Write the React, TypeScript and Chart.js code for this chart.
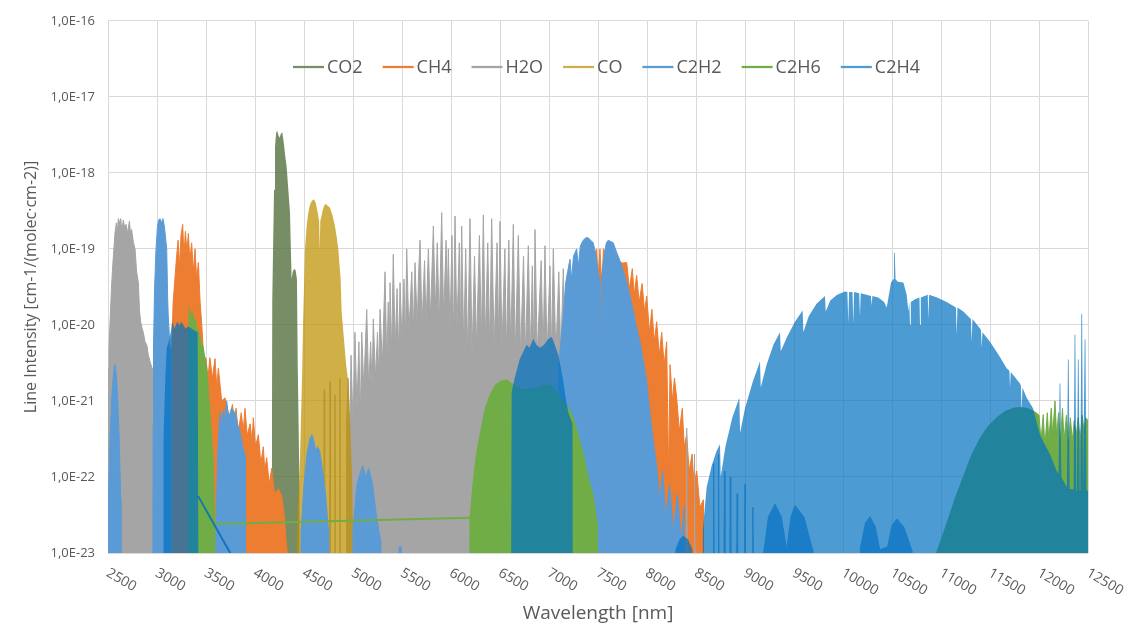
import React, { useEffect, useRef } from "react";
import { Chart, registerables } from "chart.js";

Chart.register(...registerables);

type P = [number, number];

// value used to push a band edge just below the visible axis floor
const FLOOR = 5e-24;

const seriesNames = ["CO2", "CH4", "H2O", "CO", "C2H2", "C2H6", "C2H4"];
const xTicks = [2500, 3000, 3500, 4000, 4500, 5000, 5500, 6000, 6500, 7000, 7500, 8000, 8500, 9000, 9500, 10000, 10500, 11000, 11500, 12000, 12500];
const yTicks = [1e-23, 1e-22, 1e-21, 1e-20, 1e-19, 1e-18, 1e-17, 1e-16];
const xTitle = "Wavelength [nm]";
const yTitle = "Line Intensity [cm-1/(molec·cm-2)]";

// ---- CO2 ----
const co2Band: P[] = [
  [4172, 1e-22], [4176, 2e-20], [4188, 2e-19], [4194, 6e-19], [4204, 2.2e-18], [4215, 3.3e-18], [4225, 3.6e-18],
  [4240, 3.1e-18], [4252, 2.9e-18], [4265, 3.3e-18], [4279, 3.4e-18], [4295, 2.4e-18], [4310, 1.6e-18], [4323, 1.2e-18],
  [4340, 6e-19], [4357, 3e-19], [4366, 1e-19], [4374, 4e-20], [4385, 5e-20], [4400, 5.5e-20], [4415, 5.2e-20],
  [4428, 4e-20], [4436, 3e-21], [4445, 5e-22], [4455, 5e-23],
];

// ---- CH4 ----
const ch4Band1: P[] = [
  [3150, 5e-21], [3165, 2e-20], [3180, 3.6e-20], [3200, 8e-20], [3215, 1.3e-19], [3230, 6e-20], [3245, 1.5e-19],
  [3262, 2.1e-19], [3275, 8e-20], [3290, 1.7e-19], [3305, 9e-20], [3320, 1.6e-19], [3335, 7e-20], [3354, 1.2e-19],
  [3370, 5e-20], [3388, 1e-19], [3405, 4e-20], [3422, 6.6e-20], [3440, 2e-20], [3455, 1.1e-20], [3475, 4e-21],
  [3500, 3.6e-21], [3520, 2e-21], [3540, 3.7e-21], [3565, 2e-21], [3592, 3.6e-21], [3610, 1.5e-21], [3626, 2.7e-21],
  [3660, 1e-21], [3694, 1.1e-21], [3740, 6e-22], [3770, 9e-22], [3790, 5e-22], [3806, 8e-22], [3830, 4e-22],
  [3860, 7e-22], [3880, 4e-22], [3898, 8e-22], [3920, 3.5e-22], [3950, 5e-22], [3970, 3e-22], [3983, 6e-22],
  [4005, 2.5e-22], [4034, 3.6e-22], [4060, 1.5e-22], [4085, 2.5e-22], [4100, 1.2e-22], [4119, 1.8e-22],
  [4145, 8e-23], [4170, 1.3e-22], [4200, 6e-23], [4240, 7e-23], [4272, 5.6e-23], [4300, 3e-23], [4322, 1.2e-23],
];
const ch4WeakLines: P[] = [[6126, 1.2e-22], [6194, 5e-22]];
const ch4Band2: P[] = [
  [7000, 5e-22], [7100, 3e-21], [7200, 1e-20], [7300, 3e-20], [7400, 6e-20], [7487, 1e-19], [7500, 4e-20],
  [7520, 1e-19], [7540, 3e-20], [7555, 1e-19], [7600, 8e-20], [7650, 9e-20], [7700, 7e-20], [7750, 6.5e-20],
  [7793, 6.6e-20], [7820, 3e-20], [7850, 5.5e-20], [7870, 2.5e-20], [7894, 4.5e-20], [7920, 2e-20], [7950, 3.5e-20],
  [7975, 1.5e-20], [7997, 2.4e-20], [8025, 8e-21], [8050, 1.6e-20], [8075, 6e-21], [8099, 1.1e-20], [8125, 4e-21],
  [8150, 8e-21], [8175, 3e-21], [8201, 6e-21], [8220, 1e-22], [8235, 3e-21], [8260, 1e-21], [8280, 2e-21],
  [8303, 1.1e-21], [8330, 4e-22], [8360, 8e-22], [8380, 2.5e-22], [8405, 3.6e-22], [8430, 1.2e-22], [8460, 2e-22],
  [8480, 8e-23], [8507, 1.2e-22], [8540, 4e-23], [8575, 5e-23],
];

// ---- H2O ----
const h2oBand1: P[] = [
  [2500, 2.7e-21], [2510, 5e-21], [2520, 1e-20], [2535, 3e-20], [2548, 6e-20], [2560, 1e-19], [2571, 1.6e-19],
  [2585, 2.2e-19], [2595, 1.6e-19], [2605, 2.5e-19], [2620, 2.2e-19], [2630, 2.5e-19], [2642, 1.7e-19],
  [2656, 2.4e-19], [2670, 1.9e-19], [2685, 2.1e-19], [2700, 1.6e-19], [2718, 2.3e-19], [2730, 1.6e-19],
  [2741, 1.8e-19], [2760, 1.2e-19], [2776, 1e-19], [2792, 5e-20], [2810, 3.6e-20], [2822, 1.5e-20],
  [2834, 1.1e-20], [2848, 9e-21], [2860, 8e-21], [2878, 6e-21], [2895, 5.5e-21], [2912, 4e-21], [2929, 3.3e-21],
  [2950, 2.7e-21], [2958, 1e-21],
];
const h2oWeakLinesA: P[] = [[4706, 1.4e-21], [4766, 1.8e-21], [4816, 1.2e-21], [4866, 2e-21]];
const h2oBand2: P[] = [
  [4935, 5e-22], [4950, 2e-21], [4965, 3e-22], [4980, 4e-21], [5000, 5e-22], [5020, 8e-21], [5040, 8e-22],
  [5060, 6e-21], [5075, 6e-22], [5089, 8e-21], [5110, 1.5e-21], [5140, 1.6e-20], [5160, 1.5e-21], [5180, 6e-21],
  [5195, 1.5e-21], [5207, 1.2e-20], [5230, 2e-21], [5250, 8e-21], [5262, 2e-21], [5276, 1.6e-20], [5300, 3e-21],
  [5327, 5e-20], [5345, 3e-21], [5360, 2e-20], [5370, 3e-21], [5378, 3.6e-20], [5395, 4e-21], [5411, 8.5e-20],
  [5430, 5e-21], [5450, 3e-20], [5465, 4e-21], [5480, 3.6e-20], [5500, 6e-21], [5520, 4e-20], [5535, 6e-21],
  [5548, 1e-19], [5570, 8e-21], [5600, 5e-20], [5615, 8e-21], [5633, 6.6e-20], [5655, 1e-20], [5670, 5e-20],
  [5684, 1.3e-19], [5705, 1e-20], [5730, 7e-20], [5745, 1e-20], [5769, 1e-19], [5790, 1.2e-20], [5820, 2e-19],
  [5840, 1.5e-20], [5860, 1.2e-19], [5880, 1e-20], [5905, 3e-19], [5925, 1.2e-20], [5950, 1.3e-19], [5962, 2e-20],
  [5973, 1e-19], [5990, 8e-21], [6010, 1.5e-19], [6025, 6e-21], [6041, 2.7e-19], [6060, 8e-21], [6085, 1.2e-19],
  [6095, 6e-21], [6109, 2e-19], [6130, 5e-21], [6150, 1e-19], [6170, 4e-21], [6194, 2.5e-19], [6215, 4e-21],
  [6240, 8e-20], [6260, 5e-21], [6290, 1.5e-19], [6310, 6e-21], [6330, 2.8e-19], [6350, 6e-21], [6375, 1.2e-19],
  [6395, 5e-21], [6415, 2.5e-19], [6440, 5e-21], [6470, 1.2e-19], [6485, 6e-21], [6500, 2.3e-19], [6520, 5e-21],
  [6550, 1e-19], [6565, 4e-21], [6590, 1.3e-19], [6610, 5e-21], [6636, 2.1e-19], [6655, 4e-21], [6687, 1.5e-19],
  [6710, 4e-21], [6740, 8e-20], [6760, 4e-21], [6789, 1.1e-19], [6810, 4e-21], [6830, 6e-20], [6845, 4e-21],
  [6857, 1.8e-19], [6880, 4e-21], [6920, 7e-20], [6940, 4e-21], [6959, 1.1e-19], [6980, 4e-21], [7010, 6e-20],
  [7025, 4e-21], [7044, 1e-19], [7070, 4e-21], [7100, 5e-20], [7120, 4e-21], [7146, 5.5e-20], [7165, 4e-21],
  [7180, 3e-20], [7195, 1e-21],
];
const h2oWeakLinesB: P[] = [[8405, 4.4e-22], [8485, 2e-22]];

// ---- CO ----
const coBand: P[] = [
  [4430, 2e-23], [4460, 2e-22], [4480, 2e-21], [4490, 1e-20], [4510, 1e-19], [4527, 2e-19], [4544, 3e-19],
  [4561, 3.8e-19], [4580, 4.3e-19], [4602, 4.5e-19], [4620, 4e-19], [4640, 3e-19], [4655, 2.3e-19], [4660, 9.5e-20],
  [4666, 2.3e-19], [4690, 3.2e-19], [4710, 3.8e-19], [4725, 3.9e-19], [4740, 3.7e-19], [4765, 3.5e-19],
  [4790, 2.8e-19], [4816, 2e-19], [4835, 1.4e-19], [4850, 1e-19], [4874, 4e-20], [4884, 1.5e-20], [4910, 6e-21],
  [4930, 3e-21], [4952, 1.8e-21], [4970, 6e-22], [4990, 1e-22], [5000, 2e-23],
];

// ---- C2H2 ----
const c2h2BandA: P[] = [
  [2500, 3e-23], [2520, 3e-22], [2540, 1.2e-21], [2560, 2.6e-21], [2571, 3e-21], [2585, 2.2e-21], [2600, 1e-21],
  [2615, 3e-22], [2630, 5e-23],
];
const c2h2BandB: P[] = [
  [2960, 5e-22], [2964, 5e-21], [2975, 3e-20], [2990, 1e-19], [3005, 2e-19], [3018, 2.4e-19], [3030, 2.5e-19],
  [3045, 2.2e-19], [3060, 2.5e-19], [3075, 2e-19], [3090, 1.3e-19], [3099, 1e-19], [3110, 2e-20], [3115, 1.3e-20],
  [3133, 5e-21], [3140, 1e-21],
];
const c2h2BandC: P[] = [
  [3600, 2e-23], [3620, 2e-22], [3643, 7e-22], [3660, 5e-22], [3677, 7.5e-22], [3694, 6e-22], [3711, 1e-21],
  [3730, 6e-22], [3760, 8e-22], [3796, 7e-22], [3820, 5e-22], [3847, 4e-22], [3875, 2.5e-22], [3900, 1.9e-22],
];
const c2h2BandD: P[] = [
  [4470, 2e-23], [4500, 8e-23], [4530, 2e-22], [4560, 3.2e-22], [4580, 3.6e-22], [4600, 3e-22], [4620, 2.2e-22],
  [4640, 2.5e-22], [4660, 2.2e-22], [4690, 1.2e-22], [4720, 6e-23], [4750, 2e-23],
];
const c2h2BandE: P[] = [
  [5000, 2e-23], [5040, 8e-23], [5080, 1.2e-22], [5100, 1.4e-22], [5130, 1e-22], [5160, 1.3e-22], [5200, 8e-23],
  [5240, 3e-23], [5280, 1.5e-23],
];
const c2h2BandTiny: P[] = [[5470, 1.2e-23], [5490, 1.2e-23]];
const c2h2BandF: P[] = [
  [7100, 3e-21], [7130, 8e-21], [7150, 1.5e-20], [7170, 3.6e-20], [7190, 5e-20], [7214, 7.3e-20], [7230, 4e-20],
  [7250, 8e-20], [7282, 1e-19], [7300, 6e-20], [7320, 1.1e-19], [7350, 1.3e-19], [7375, 1.4e-19], [7401, 1.4e-19],
  [7425, 1.3e-19], [7452, 1.2e-19], [7480, 8e-20], [7500, 5e-20], [7520, 3.6e-20], [7527, 3e-21], [7535, 4e-20],
  [7560, 8e-20], [7585, 1.2e-19], [7605, 1.3e-19], [7630, 1.25e-19], [7656, 1.2e-19], [7690, 9e-20], [7724, 7e-20],
  [7760, 5e-20], [7793, 3.6e-20], [7830, 2.3e-20], [7861, 1.5e-20], [7895, 9e-21], [7929, 6e-21], [7960, 3.5e-21],
  [7997, 1.8e-21], [8030, 7e-22], [8065, 2.9e-22], [8099, 1.4e-22], [8130, 5e-23], [8160, 1.2e-22], [8190, 3e-23],
  [8230, 8e-23], [8270, 2e-23], [8310, 6e-23], [8350, 1.5e-23], [8380, 4e-23],
];
const c2h2WeakLines: P[] = [[8680, 1.5e-22], [8730, 2e-22], [8790, 1.2e-22], [8850, 1e-22], [8920, 6e-23], [9000, 8e-23], [9080, 4e-23]];
const c2h2HumpsA: P[] = [
  [9190, 1e-23], [9240, 3e-23], [9306, 4.4e-23], [9370, 3e-23], [9425, 1.1e-23], [9470, 3e-23], [9510, 4.2e-23],
  [9600, 3e-23], [9690, 1.1e-23],
];
const c2h2HumpsB: P[] = [
  [10180, 1.2e-23], [10230, 2.5e-23], [10276, 3e-23], [10330, 2.2e-23], [10375, 1.1e-23], [10455, 1.2e-23],
  [10500, 2.3e-23], [10551, 2.8e-23], [10620, 2.2e-23], [10700, 1.1e-23],
];

// ---- C2H6 ----
const c2h6BandA: P[] = [
  [3320, 5e-21], [3330, 1.7e-20], [3345, 1.2e-20], [3360, 1.5e-20], [3375, 1.1e-20], [3390, 1.2e-20], [3405, 9e-21],
  [3422, 8e-21], [3440, 6.5e-21], [3460, 5.5e-21], [3473, 5e-21], [3490, 3.5e-21], [3507, 2.7e-21], [3525, 1.3e-21],
  [3541, 7e-22], [3560, 3e-22], [3575, 1.5e-22], [3590, 2.4e-23],
];
const c2h6BandB: P[] = [
  [6194, 2.9e-23], [6228, 9e-23], [6260, 2e-22], [6296, 3.6e-22], [6350, 8e-22], [6398, 1.2e-21], [6450, 1.6e-21],
  [6500, 1.8e-21], [6568, 1.9e-21], [6620, 1.7e-21], [6670, 1.5e-21], [6750, 1.4e-21], [6850, 1.45e-21],
  [6950, 1.6e-21], [7010, 1.6e-21], [7080, 1.3e-21], [7146, 1e-21], [7200, 8e-22], [7248, 6e-22], [7300, 3.5e-22],
  [7350, 2e-22], [7400, 1e-22], [7452, 5.6e-23], [7490, 2.5e-23],
];
const c2h6BandC: P[] = [
  [10955, 1e-23], [11058, 2.4e-23], [11140, 5e-23], [11228, 1e-22], [11310, 1.9e-22], [11398, 3.2e-22],
  [11480, 4.6e-22], [11568, 6e-22], [11650, 7.2e-22], [11738, 8e-22], [11800, 8.2e-22], [11874, 8e-22],
  [11930, 7.5e-22], [11970, 7e-22], [12000, 6.5e-22], [12020, 3e-22], [12043, 6.6e-22], [12060, 2.5e-22],
  [12085, 7e-22], [12100, 3e-22], [12125, 8e-22], [12140, 3.5e-22], [12163, 1e-21], [12180, 3.5e-22],
  [12200, 7e-22], [12215, 2.5e-22], [12240, 8e-22], [12255, 3e-22], [12280, 6.5e-22], [12300, 2.5e-22],
  [12320, 6e-22], [12340, 3e-22], [12360, 5.5e-22], [12380, 3.5e-22], [12400, 6e-22], [12420, 3e-22],
  [12440, 6.5e-22], [12460, 4e-22], [12480, 6e-22], [12500, 5.5e-22],
];

// ---- C2H4 ----
const c2h4BandA: P[] = [
  [3065, 3e-22], [3085, 2e-21], [3099, 5e-21], [3120, 6e-21], [3140, 8e-21], [3155, 1.1e-20], [3180, 9e-21],
  [3205, 1.1e-20], [3230, 1e-20], [3250, 1.1e-20], [3269, 1e-20], [3290, 9e-21], [3320, 9.5e-21], [3350, 9e-21],
  [3380, 8.5e-21], [3415, 8e-21], [3420, 5.6e-23],
];
const c2h4BandB: P[] = [
  [6600, 3e-30], [6619, 1.3e-21], [6650, 2e-21], [6700, 3.5e-21], [6740, 4.5e-21], [6772, 5.5e-21], [6800, 5e-21],
  [6840, 6.6e-21], [6870, 5.5e-21], [6908, 5e-21], [6950, 5.5e-21], [6990, 6.5e-21], [7027, 7e-21], [7060, 5.5e-21],
  [7095, 4e-21], [7120, 2.8e-21], [7146, 1.8e-21], [7170, 1.1e-21], [7197, 7e-22], [7240, 5e-22],
];
const c2h4Hump: P[] = [[8290, 1.1e-23], [8330, 1.5e-23], [8370, 1.7e-23], [8420, 1.5e-23], [8465, 1.1e-23]];
const c2h4BandC: P[] = [
  [8570, 2e-23], [8609, 7.4e-23], [8660, 1.4e-22], [8710, 2.2e-22], [8745, 2.7e-22], [8752, 1e-22], [8800, 2.5e-22],
  [8870, 6e-22], [8942, 1.1e-21], [8950, 3.8e-22], [9000, 8e-22], [9080, 1.8e-21], [9153, 3.3e-21], [9161, 1.5e-21],
  [9220, 3e-21], [9290, 5.5e-21], [9357, 8e-21], [9365, 4.5e-21], [9430, 7e-21], [9510, 1.1e-20], [9588, 1.55e-20],
  [9596, 8e-21], [9650, 1.3e-20], [9730, 1.9e-20], [9816, 2.4e-20], [9824, 1.5e-20], [9870, 2.1e-20],
  [9940, 2.5e-20], [10020, 2.75e-20], [10045, 2.7e-20], [10054, 1.05e-20], [10062, 2.7e-20], [10097, 2.7e-20],
  [10105, 1.05e-20], [10113, 2.7e-20], [10165, 2.6e-20], [10173, 1.3e-20], [10181, 2.6e-20], [10240, 2.5e-20],
  [10285, 2.4e-20], [10292, 1.8e-20], [10300, 2.4e-20], [10360, 2.3e-20], [10420, 2e-20], [10446, 1.7e-20],
  [10490, 3.6e-20], [10512, 4e-20], [10520, 8.9e-20], [10528, 8.9e-20], [10536, 4e-20], [10560, 3.7e-20], [10616, 3.6e-20],
  [10650, 2.5e-20], [10667, 1.5e-20], [10676, 2e-20], [10684, 1e-20], [10692, 2e-20], [10740, 2.2e-20],
  [10780, 2.3e-20], [10786, 1e-20], [10794, 2.3e-20], [10865, 2.5e-20], [10871, 1.2e-20], [10879, 2.5e-20],
  [10960, 2.3e-20], [11058, 2e-20], [11152, 1.7e-20], [11160, 7.4e-21], [11168, 1.7e-20], [11228, 1.5e-20],
  [11305, 1.2e-20], [11313, 6e-21], [11321, 1.2e-20], [11398, 9e-21], [11408, 8.5e-21], [11415, 5e-21],
  [11423, 8e-21], [11500, 6e-21], [11600, 3.8e-21], [11670, 2.7e-21], [11698, 2.5e-21], [11704, 1.5e-21],
  [11712, 2.4e-21], [11806, 1.7e-21], [11815, 1.6e-21], [11823, 7e-22], [11831, 1.5e-21], [11874, 1.1e-21],
  [11939, 8e-22], [12010, 3.6e-22], [12078, 2.4e-22], [12112, 2e-22], [12180, 1.2e-22], [12200, 1.1e-22],
  [12210, 1.7e-21], [12218, 1.7e-21], [12228, 1e-22], [12282, 7.4e-23], [12285, 7.2e-23], [12295, 3.5e-21],
  [12303, 3.5e-21], [12313, 7e-23], [12353, 6.8e-23], [12363, 7.4e-21], [12371, 7.4e-21], [12381, 6.7e-23],
  [12387, 6.6e-23], [12397, 3.5e-21], [12405, 3.5e-21], [12415, 6.6e-23], [12422, 6.6e-23], [12432, 1.4e-20],
  [12440, 1.4e-20], [12450, 6.6e-23], [12456, 6.6e-23], [12466, 6.5e-21], [12474, 6.5e-21], [12484, 6.6e-23],
  [12500, 6.6e-23],
];

// ---- helpers (geometry only) ----
function band(pts: P[]): P[] {
  return [[pts[0][0] - 2, FLOOR], ...pts, [pts[pts.length - 1][0] + 2, FLOOR]];
}
function lines(ls: P[], hw: number): P[] {
  const out: P[] = [];
  for (const [x, v] of ls) out.push([x - hw, FLOOR], [x, v], [x + hw, FLOOR]);
  return out;
}
function toXY(parts: P[][]) {
  return parts.flat().map(([x, y]) => ({ x, y }));
}
const last = (a: P[]) => a[a.length - 1];

const legendColors = ["#768D66", "#ED7D31", "#A5A5A5", "#CFAF47", "#5B9BD5", "#70AD47", "#4C9CD3"];

const speciesDefs = [
  { parts: [band(co2Band)], fill: "rgba(84,112,64,0.8)", border: "rgba(0,0,0,0)", order: 7 },
  { parts: [band(ch4Band1), lines(ch4WeakLines, 4), band(ch4Band2)], fill: "rgba(237,125,49,1)", border: "rgba(237,125,49,1)", order: 6 },
  { parts: [band(h2oBand1), lines(h2oWeakLinesA, 5), band(h2oBand2), lines(h2oWeakLinesB, 5)], fill: "rgba(165,165,165,1)", border: "rgba(165,165,165,1)", order: 5 },
  { parts: [band(coBand)], fill: "rgba(191,144,0,0.72)", border: "rgba(0,0,0,0)", order: 4 },
  { parts: [band(c2h2BandA), band(c2h2BandB), band(c2h2BandC), band(c2h2BandD), band(c2h2BandE), band(c2h2BandTiny), band(c2h2BandF), lines(c2h2WeakLines, 5), band(c2h2HumpsA), band(c2h2HumpsB)], fill: "rgba(91,155,213,1)", border: "rgba(91,155,213,1)", order: 3 },
  { parts: [band(c2h6BandA), band(c2h6BandB), band(c2h6BandC)], fill: "rgba(112,173,71,1)", border: "rgba(112,173,71,1)", order: 2 },
  { parts: [band(c2h4BandA), band(c2h4BandB), band(c2h4Hump), band(c2h4BandC)], fill: "rgba(0,112,192,0.7)", border: "rgba(0,0,0,0)", order: 1 },
];

const connectors = [
  { pts: [last(c2h6BandA), c2h6BandB[0]], color: "rgba(112,173,71,1)", order: 1.5 },
  { pts: [last(c2h4BandA), c2h4BandB[0]], color: "rgba(0,112,192,0.85)", order: 0.5 },
];

const textPlugin = {
  id: "customText",
  afterDraw(chart: any) {
    const ctx: CanvasRenderingContext2D = chart.ctx;
    const xs = chart.scales.x;
    const area = chart.chartArea;
    ctx.save();
    ctx.fillStyle = "#595959";
    // x tick labels (rotated)
    ctx.font = "14px 'Open Sans'";
    ctx.textAlign = "left";
    ctx.textBaseline = "top";
    for (const t of xTicks) {
      const px = xs.getPixelForValue(t);
      ctx.save();
      ctx.translate(px + 3, area.bottom + 13);
      ctx.rotate(Math.PI / 6);
      ctx.fillText(String(t), 0, 0);
      ctx.restore();
    }
    // axis titles
    ctx.font = "19px 'Open Sans'";
    ctx.textAlign = "center";
    ctx.textBaseline = "middle";
    ctx.fillText(xTitle, (area.left + area.right) / 2, 614);
    ctx.save();
    ctx.translate(31.5, 287);
    ctx.rotate(-Math.PI / 2);
    ctx.font = "16px 'Open Sans'";
    ctx.fillText(yTitle, 0, 0);
    ctx.restore();
    // legend
    ctx.font = "18px 'Open Sans'";
    ctx.textAlign = "left";
    const lineLen = 31, gapLT = 3, gapItem = 20;
    const widths = seriesNames.map((n) => ctx.measureText(n).width);
    const total = widths.reduce((s, w) => s + lineLen + gapLT + w, 0) + gapItem * (seriesNames.length - 1);
    let x = 606.5 - total / 2;
    const ly = 67;
    seriesNames.forEach((n, i) => {
      ctx.strokeStyle = legendColors[i];
      ctx.lineWidth = 2.25;
      ctx.beginPath();
      ctx.moveTo(x, ly);
      ctx.lineTo(x + lineLen, ly);
      ctx.stroke();
      ctx.fillStyle = "#595959";
      ctx.fillText(n, x + lineLen + gapLT, ly + 1);
      x += lineLen + gapLT + widths[i] + gapItem;
    });
    ctx.restore();
  },
};

export default function App() {
  const ref = useRef<HTMLCanvasElement | null>(null);
  useEffect(() => {
    document.body.style.margin = "0";
    if (!ref.current) return;
    const datasets: any[] = speciesDefs.map((s, i) => ({
      label: seriesNames[i],
      data: toXY(s.parts),
      borderColor: s.border,
      backgroundColor: s.fill,
      borderWidth: 1,
      fill: "start",
      pointRadius: 0,
      tension: 0,
      order: s.order,
    }));
    connectors.forEach((c, i) => {
      datasets.push({
        label: "connector" + i,
        data: toXY([c.pts as P[]]),
        borderColor: c.color,
        borderWidth: 2,
        fill: false,
        pointRadius: 0,
        tension: 0,
        order: c.order,
      });
    });
    const chart = new Chart(ref.current, {
      type: "line",
      data: { datasets },
      options: {
        animation: false,
        responsive: false,
        events: [],
        layout: { padding: { top: 16, right: 54, bottom: 0, left: 0 } },
        plugins: { legend: { display: false }, tooltip: { enabled: false } },
        scales: {
          x: {
            type: "linear",
            min: 2500,
            max: 12500,
            ticks: { stepSize: 500, display: false },
            grid: { color: "#D9D9D9", drawTicks: false, lineWidth: 1 },
            border: { display: false },
            afterFit: (s: any) => { s.height = 73; },
          },
          y: {
            type: "logarithmic",
            min: 1e-23,
            max: 1e-16,
            afterBuildTicks: (s: any) => { s.ticks = yTicks.map((v) => ({ value: v })); },
            ticks: {
              padding: 13,
              color: "#595959",
              font: { family: "'Open Sans'", size: 13 },
              callback: (v: any) => "1,0E-" + String(-Math.round(Math.log10(Number(v)))),
            },
            grid: { color: "#D9D9D9", drawTicks: false, lineWidth: 1 },
            border: { display: false },
            afterFit: (s: any) => { s.width = 108; },
          },
        },
      } as any,
      plugins: [textPlugin],
    });
    return () => chart.destroy();
  }, []);
  return (
    <div style={{ position: "fixed", left: 0, top: 0, width: 1142, height: 626, background: "#fff" }}>
      <canvas ref={ref} width={1142} height={626} style={{ display: "block" }} />
    </div>
  );
}
